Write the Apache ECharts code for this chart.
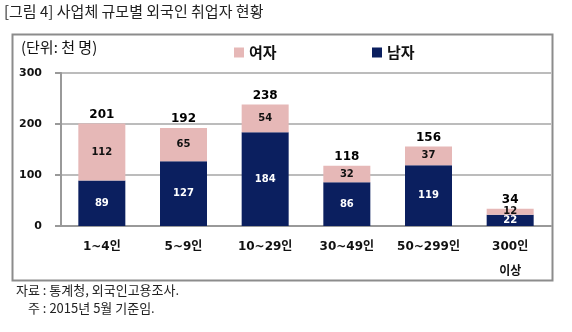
<!DOCTYPE html>
<html><head><meta charset="utf-8">
<script src="https://cdn.jsdelivr.net/npm/echarts@6/dist/echarts.min.js"></script>
<style>html,body{margin:0;padding:0;background:#fff}#c{width:572px;height:332px}</style>
</head><body><div id="c"></div>
<script>
const categories = ['1~4인', '5~9인', '10~29인', '30~49인', '50~299인', '300인\n이상'];
const male = [89, 127, 184, 86, 119, 22];
const female = [112, 65, 54, 32, 37, 12];
const totals = [201, 192, 238, 118, 156, 34];
const yTicks = [0, 100, 200, 300];

const FONT = '"DejaVu Sans", Verdana, sans-serif';
const KFONT = '"Noto Sans CJK KR", sans-serif';
const MIX = '"DejaVu Sans", "Noto Sans CJK KR", sans-serif';
const chart = echarts.init(document.getElementById('c'), null, {renderer: 'canvas'});
chart.setOption({
  animation: false,
  backgroundColor: '#fff',
  graphic: [
    {type: 'text', left: 4, top: 4, style: {text: '[그림 4] 사업체 규모별 외국인 취업자 현황', font: '15px ' + KFONT, fill: '#222'}},
    {type: 'rect', shape: {x: 12.5, y: 34.5, width: 540, height: 246}, style: {fill: 'none', stroke: '#8c8c8c', lineWidth: 2}},
    {type: 'text', left: 21, top: 40, style: {text: '(단위: 천 명)', font: '15px ' + KFONT, fill: '#111'}},
    {type: 'text', left: 16, top: 284, style: {text: '자료 : 통계청, 외국인고용조사.', font: '13px ' + KFONT, fill: '#222'}},
    {type: 'text', left: 28, top: 302, style: {text: '주 : 2015년 5월 기준임.', font: '13px ' + KFONT, fill: '#222'}}
  ],
  legend: [
    {data: ['여자'], left: 229, top: 40, itemWidth: 10, itemHeight: 10, itemGap: 6, icon: 'rect',
     textStyle: {fontFamily: KFONT, fontWeight: 'bold', fontSize: 15, color: '#111'}},
    {data: ['남자'], left: 367, top: 40, itemWidth: 10, itemHeight: 10, itemGap: 6, icon: 'rect',
     textStyle: {fontFamily: KFONT, fontWeight: 'bold', fontSize: 15, color: '#111'}}
  ],
  grid: {left: 61, right: 21, top: 73, bottom: 106, containLabel: false},
  xAxis: {
    type: 'category', data: categories,
    axisLine: {show: true, lineStyle: {color: '#999', width: 2}},
    axisTick: {show: false},
    axisLabel: {interval: 0, hideOverlap: false, fontFamily: MIX, fontWeight: 'bold', fontSize: 12, color: '#111', margin: 8, lineHeight: 25}
  },
  yAxis: {
    type: 'value', min: 0, max: 300, interval: 100,
    axisLine: {show: true, lineStyle: {color: '#999', width: 2}},
    axisTick: {show: true, length: 6, lineStyle: {color: '#999', width: 2}},
    splitLine: {show: true, lineStyle: {color: '#a6a6a6', width: 1.5}},
    axisLabel: {fontFamily: FONT, fontWeight: 'bold', fontSize: 11, color: '#111', margin: 19,
      formatter: v => yTicks.includes(v) ? String(v) : ''}
  },
  series: [
    {name: '남자', type: 'bar', stack: 't', data: male, barWidth: 47,
     itemStyle: {color: '#0b1f5f'},
     label: {show: true, position: 'inside', color: '#fff', fontFamily: FONT, fontWeight: 'bold', fontSize: 10}},
    {name: '여자', type: 'bar', stack: 't', data: female, barWidth: 47,
     itemStyle: {color: '#e6b8b7'},
     label: {show: true, position: 'inside', color: '#111', fontFamily: FONT, fontWeight: 'bold', fontSize: 10}},
    {name: 'total', type: 'scatter', data: totals, symbolSize: 0, silent: true,
     itemStyle: {opacity: 1},
     label: {show: true, position: 'top', distance: 3, color: '#000', fontFamily: FONT, fontWeight: 'bold', fontSize: 12,
       formatter: p => p.value}}
  ]
});
</script></body></html>
